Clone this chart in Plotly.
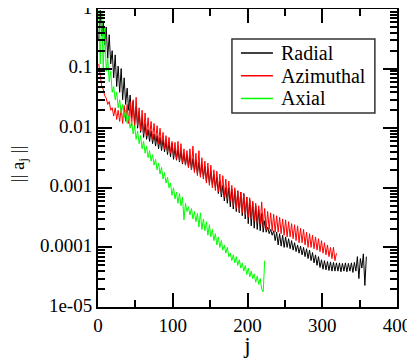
import numpy as np
import plotly.graph_objs as go

# mode index j (every second mode) and norms
j_radial = np.arange(1, 361, 2)
radial = [
    0.3, 0.95, 0.35, 0.6, 0.25, 0.5, 0.15, 0.37, 0.12, 0.2,
    0.07, 0.17, 0.05, 0.11, 0.04, 0.1, 0.03, 0.07, 0.025, 0.047,
    0.02, 0.036, 0.015, 0.028, 0.012, 0.023, 0.01, 0.019, 0.0085, 0.015,
    0.007, 0.012, 0.0065, 0.0095, 0.006, 0.009, 0.0055, 0.008, 0.005, 0.0075,
    0.0045, 0.007, 0.0042, 0.0065, 0.004, 0.006, 0.0036, 0.0058, 0.0033, 0.0056,
    0.003, 0.0046, 0.0029, 0.0044, 0.0027, 0.0041, 0.0025, 0.0038, 0.0024, 0.0036,
    0.0022, 0.0034, 0.002, 0.0031, 0.0019, 0.0029, 0.0017, 0.0027, 0.0016, 0.0025,
    0.0015, 0.0023, 0.0013, 0.0021, 0.0012, 0.0019, 0.0011, 0.0017, 0.001, 0.0015,
    0.0008, 0.0013, 0.0007, 0.0011, 0.0006, 0.001, 0.00055, 0.001, 0.00048, 0.00095,
    0.00044, 0.0009, 0.0004, 0.00088, 0.00038, 0.00085, 0.00034, 0.0008, 0.0003, 0.0007,
    0.00025, 0.00062, 0.00023, 0.00056, 0.00021, 0.0005, 0.0002, 0.00043, 0.00019, 0.00037,
    0.00018, 0.00028, 0.00018, 0.00022, 0.00017, 0.0002, 0.00016, 0.00019, 0.00013, 0.00018,
    0.00011, 0.00017, 0.000105, 0.00016, 0.0001, 0.00015, 0.0001, 0.00014, 0.000095, 0.00013,
    0.00009, 0.00012, 0.000085, 0.00011, 0.00008, 0.000105, 0.000075, 0.0001, 0.00007, 0.000095,
    0.000065, 0.00009, 0.00006, 0.000082, 0.000055, 0.000075, 0.00005, 0.00007, 0.000046, 0.000062,
    0.000043, 0.00006, 0.000042, 0.000058, 0.000041, 0.000057, 0.00004, 0.000056, 0.00004, 0.000055,
    0.00004, 0.000055, 0.000039, 0.000054, 0.00004, 0.000055, 0.000039, 0.000054, 0.00004, 0.000055,
    0.000038, 0.000056, 0.00004, 0.00007, 0.00003, 0.000065, 0.000045, 0.000078, 0.000023, 0.00007,
]

j_azimuthal = np.arange(1, 321, 2)
azimuthal = [
    0.12, 0.07, 0.05, 0.045, 0.035, 0.032, 0.025, 0.028, 0.02, 0.022,
    0.016, 0.022, 0.014, 0.02, 0.013, 0.022, 0.012, 0.024, 0.013, 0.025,
    0.012, 0.028, 0.011, 0.03, 0.01, 0.033, 0.011, 0.022, 0.009, 0.02,
    0.008, 0.018, 0.0075, 0.015, 0.007, 0.013, 0.0065, 0.012, 0.006, 0.011,
    0.0055, 0.01, 0.005, 0.0085, 0.0045, 0.0075, 0.004, 0.007, 0.0038, 0.006,
    0.0035, 0.0058, 0.003, 0.006, 0.0028, 0.0055, 0.0026, 0.0045, 0.0024, 0.0042,
    0.0022, 0.0045, 0.002, 0.005, 0.0018, 0.0038, 0.0016, 0.0042, 0.0015, 0.0032,
    0.0014, 0.0028, 0.0012, 0.0026, 0.0011, 0.0024, 0.001, 0.002, 0.0009, 0.0019,
    0.00085, 0.0017, 0.0008, 0.0016, 0.0007, 0.0014, 0.00065, 0.0013, 0.0006, 0.0011,
    0.0005, 0.001, 0.00045, 0.0009, 0.0004, 0.00085, 0.00038, 0.0008, 0.00035, 0.0007,
    0.00032, 0.00068, 0.0003, 0.0006, 0.00028, 0.00055, 0.00026, 0.0005, 0.00025, 0.00058,
    0.00022, 0.00045, 0.0002, 0.0004, 0.0002, 0.00038, 0.00019, 0.00036, 0.00018, 0.00034,
    0.00018, 0.00032, 0.00017, 0.0003, 0.00016, 0.00029, 0.00015, 0.00027, 0.00015, 0.00025,
    0.00014, 0.00024, 0.00013, 0.00023, 0.00012, 0.00021, 0.00012, 0.0002, 0.00011, 0.00018,
    0.0001, 0.00017, 0.0001, 0.00016, 0.000095, 0.00015, 0.00009, 0.00014, 0.000085, 0.00013,
    0.00008, 0.00012, 0.000075, 0.00011, 0.00007, 0.0001, 0.000065, 0.0001, 0.00006, 0.00008,
]

j_axial = np.arange(1, 225, 2)
axial = [
    0.95, 0.12, 0.9, 0.1, 0.5, 0.09, 0.15, 0.06, 0.09, 0.04,
    0.05, 0.03, 0.04, 0.022, 0.03, 0.018, 0.025, 0.015, 0.02, 0.012,
    0.016, 0.01, 0.013, 0.008, 0.011, 0.0065, 0.009, 0.0055, 0.0075, 0.0045,
    0.006, 0.0038, 0.005, 0.0032, 0.0042, 0.0028, 0.0036, 0.0024, 0.003, 0.002,
    0.0026, 0.0017, 0.0022, 0.0014, 0.0018, 0.0012, 0.0015, 0.001, 0.0012, 0.00075,
    0.001, 0.00065, 0.00085, 0.00055, 0.0008, 0.0005, 0.0007, 0.00029, 0.00055, 0.0004,
    0.00048, 0.00035, 0.00045, 0.0003, 0.0004, 0.00027, 0.00037, 0.00022, 0.00038, 0.0002,
    0.0003, 0.00019, 0.00027, 0.00016, 0.00024, 0.00015, 0.0002, 0.00013, 0.00017, 0.00011,
    0.00015, 0.0001, 0.00013, 0.00009, 0.00011, 0.00008, 0.0001, 0.00007, 0.00008, 0.00006,
    0.000075, 0.000055, 0.00007, 0.00005, 0.000062, 0.000045, 0.000055, 0.00004, 0.00005, 0.000035,
    0.000045, 0.000032, 0.00004, 0.00003, 0.000036, 0.000026, 0.000033, 0.000024, 0.00003, 0.00002,
    0.000018, 0.00006,
]

series_names = ["Radial", "Azimuthal", "Axial"]
series_colors = ["#000000", "#ff0000", "#00ff00"]

y_ticks = [1e-5, 1e-4, 1e-3, 1e-2, 1e-1, 1]
y_labels = ["1e-05", "0.0001", "0.001", "0.01", "0.1", "1"]

font = dict(family="Liberation Serif", size=19, color="black")
frame = "black"

fig = go.Figure()
for name, color, jj, vals in zip(series_names, series_colors, [j_radial, j_azimuthal, j_axial], [radial, azimuthal, axial]):
    fig.add_trace(go.Scatter(x=jj, y=vals, mode="lines", name=name, line={"color": color, "width": 1}, showlegend=False))

# boxed legend drawn by hand so that the rows sit as tight as in the original
fig.add_shape(type="rect", xref="paper", yref="paper", x0=0.448, x1=0.926, y0=0.651, y1=0.899,
              line=dict(color="#333333", width=1.5), fillcolor="white", layer="above")
for k, (name, color) in enumerate(zip(series_names, series_colors)):
    yk = 0.852 - 0.076 * k
    fig.add_shape(type="line", xref="paper", yref="paper", x0=0.478, x1=0.585, y0=yk, y1=yk,
                  line=dict(color=color, width=1.5), layer="above")
    fig.add_annotation(xref="paper", yref="paper", x=0.607, y=yk, text=name, showarrow=False,
                       xanchor="left", yanchor="middle", font=dict(family="Liberation Serif", size=20, color="black"))

# y title sits far out at the left edge
fig.add_annotation(xref="paper", yref="paper", x=-0.266, y=0.48, text="|| a<sub>j</sub> ||", showarrow=False,
                   textangle=-90, xanchor="center", yanchor="middle", font=font)

minor_y = [m * 10.0**k for k in range(-5, 0) for m in range(2, 10)]

# the page puts the plot 8px in from the top-left corner, so the figure is 8px smaller
fig.update_layout(
    width=407,
    height=350,
    paper_bgcolor="white",
    plot_bgcolor="white",
    font=font,
    margin=dict(l=90, r=18, t=1, b=51),
    showlegend=False,
)
fig.update_xaxes(
    range=[0, 400], dtick=100, tick0=0, showgrid=False, zeroline=False, automargin=False,
    showline=True, linecolor=frame, linewidth=2, mirror="allticks",
    ticks="inside", ticklen=14, tickwidth=1.5, tickcolor=frame, ticklabelstandoff=0,
    ticklabeloverflow="allow",
    minor=dict(dtick=50, ticks="inside", ticklen=7, tickwidth=1.5, tickcolor=frame),
    title=dict(text="j", standoff=4), tickfont=font,
)
fig.update_yaxes(
    type="log", range=[-5, 0], tickvals=y_ticks, ticktext=y_labels, automargin=False,
    showgrid=False, zeroline=False, ticklabeloverflow="allow", ticklabelshift=-2,
    showline=True, linecolor=frame, linewidth=2, mirror="allticks",
    ticks="inside", ticklen=14, tickwidth=1.5, tickcolor=frame,
    minor=dict(tickvals=minor_y, ticks="inside", ticklen=7, tickwidth=1.5, tickcolor=frame),
    tickfont=font,
)

fig.write_html("out.html")
